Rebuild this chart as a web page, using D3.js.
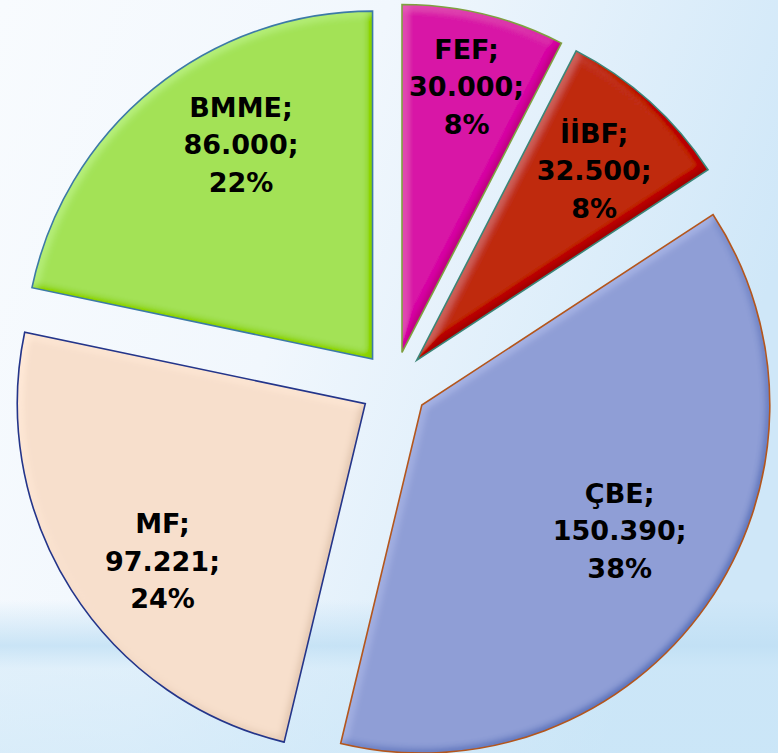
<!DOCTYPE html>
<html>
<head>
<meta charset="utf-8">
<script src="https://cdn.jsdelivr.net/npm/d3@7"></script>
<style>
html,body{margin:0;padding:0;overflow:hidden;}
svg{display:block;}
</style>
</head>
<body>
<div id="chart"></div>
<script>
// data
const categories = ["FEF", "İİBF", "ÇBE", "MF", "BMME"];
const values = [30000, 32500, 150390, 97221, 86000];

// look
const fills = ["#d816a6", "#bf2a10", "#8f9ed6", "#f7dfcc", "#a3e257"];
const strokes = ["#7fa040", "#3b8577", "#b4561c", "#24358a", "#3c7aa6"];
// label spot: share of radius, turn from the slice middle (degrees)
const labelRatio = [0.787, 0.747, 0.673, 0.737, 0.724];
const labelTurn = [0, 1, -2.8, -5.4, 7.6];

const width = 778, height = 753;
const cx = 394, cy = 385.5, radius = 348, explode = 34;

const svg = d3.select("#chart").append("svg")
  .attr("width", width)
  .attr("height", height);

const defs = svg.append("defs");

// background
const bg = defs.append("linearGradient").attr("id", "bg")
  .attr("x1", "0").attr("y1", "0").attr("x2", "1").attr("y2", "0.35");
bg.append("stop").attr("offset", "0").attr("stop-color", "#f8fbfe");
bg.append("stop").attr("offset", "0.45").attr("stop-color", "#f1f7fd");
bg.append("stop").attr("offset", "1").attr("stop-color", "#cfe7f8");

const band = defs.append("linearGradient").attr("id", "band")
  .attr("x1", "0").attr("y1", "0").attr("x2", "0").attr("y2", "1");
band.append("stop").attr("offset", "0").attr("stop-color", "#bfdff4").attr("stop-opacity", 0);
band.append("stop").attr("offset", "0.3").attr("stop-color", "#bfdff4").attr("stop-opacity", 0.8);
band.append("stop").attr("offset", "0.45").attr("stop-color", "#c8e5f7").attr("stop-opacity", 0.45);
band.append("stop").attr("offset", "1").attr("stop-color", "#c8e5f7").attr("stop-opacity", 0.6);

svg.append("rect").attr("width", width).attr("height", height).attr("fill", "url(#bg)");
svg.append("rect").attr("y", 600).attr("width", width).attr("height", 153).attr("fill", "url(#band)");

// bevel
const f = defs.append("filter").attr("id", "bevel")
  .attr("x", "-5%").attr("y", "-5%").attr("width", "110%").attr("height", "110%");
f.append("feGaussianBlur").attr("in", "SourceAlpha").attr("stdDeviation", 4).attr("result", "blur");
f.append("feDiffuseLighting").attr("in", "blur").attr("surfaceScale", 3)
  .attr("diffuseConstant", 1).attr("lighting-color", "#ffffff").attr("result", "light")
  .append("feDistantLight").attr("azimuth", 225).attr("elevation", 45);
f.append("feComposite").attr("in", "SourceGraphic").attr("in2", "light")
  .attr("operator", "arithmetic")
  .attr("k1", 0).attr("k2", 1).attr("k3", 0.38).attr("k4", -0.38 * Math.SQRT1_2)
  .attr("result", "lit");
f.append("feComposite").attr("in", "lit").attr("in2", "SourceAlpha").attr("operator", "in");

const total = d3.sum(values);

// percentages that add up to 100 (largest remainder)
const raw = values.map(v => v / total * 100);
const pct = raw.map(Math.floor);
let left = 100 - d3.sum(pct);
d3.range(values.length)
  .sort((a, b) => (raw[b] - pct[b]) - (raw[a] - pct[a]))
  .slice(0, left)
  .forEach(i => pct[i] += 1);

const tr = d3.formatLocale({decimal: ",", thousands: ".", grouping: [3], currency: ["", ""]});
const fmt = tr.format(",.0f");

const pie = d3.pie().sort(null).startAngle(0).endAngle(2 * Math.PI);
const arcs = pie(values);
const arc = d3.arc().innerRadius(0).outerRadius(radius);

const g = svg.append("g").attr("transform", `translate(${cx},${cy})`);

const slice = g.selectAll("g.slice")
  .data(arcs)
  .join("g")
  .attr("class", "slice")
  .attr("transform", d => {
    const a = (d.startAngle + d.endAngle) / 2;
    return `translate(${explode * Math.sin(a)},${-explode * Math.cos(a)})`;
  });

slice.append("path")
  .attr("d", arc)
  .attr("fill", (d, i) => fills[i])
  .attr("filter", "url(#bevel)");

slice.append("path")
  .attr("d", arc)
  .attr("fill", "none")
  .attr("stroke", (d, i) => strokes[i])
  .attr("stroke-width", 1.6)
  .attr("stroke-linejoin", "miter");

const lab = slice.append("text")
  .attr("transform", (d, i) => {
    const a = (d.startAngle + d.endAngle) / 2 + labelTurn[i] * Math.PI / 180;
    const r = radius * labelRatio[i];
    return `translate(${r * Math.sin(a)},${-r * Math.cos(a)})`;
  })
  .attr("text-anchor", "middle")
  .attr("font-family", "'DejaVu Sans', Verdana, sans-serif")
  .attr("font-weight", "bold")
  .attr("font-size", 27)
  .attr("fill", "#000");

lab.each(function(d, i) {
  const lines = [categories[i] + ";", fmt(values[i]) + ";", pct[i] + "%"];
  d3.select(this).selectAll("tspan")
    .data(lines)
    .join("tspan")
    .attr("x", 0)
    .attr("y", (t, j) => (j - 1) * 37.5 + 10)
    .text(t => t);
});
</script>
</body>
</html>
